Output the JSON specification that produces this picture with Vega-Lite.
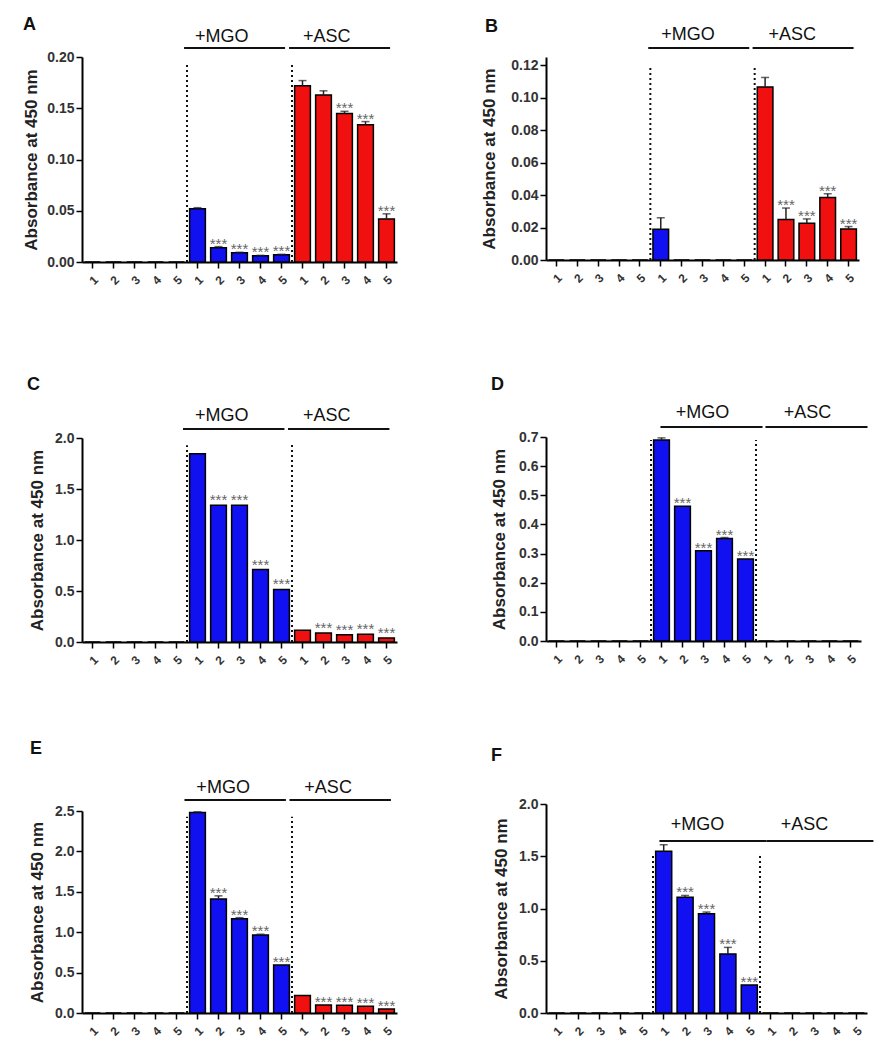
{
  "$schema": "https://vega.github.io/schema/vega-lite/v6.json",
  "padding": {"left": 21, "top": 16, "right": 5, "bottom": 5},
  "datasets": {
    "rows": [
      {"p":"A","k":"bar","c":"c1","g":"ctrl","v":0,"t":0,"s":""},
      {"p":"A","k":"bar","c":"c2","g":"ctrl","v":0,"t":0,"s":""},
      {"p":"A","k":"bar","c":"c3","g":"ctrl","v":0,"t":0,"s":""},
      {"p":"A","k":"bar","c":"c4","g":"ctrl","v":0,"t":0,"s":""},
      {"p":"A","k":"bar","c":"c5","g":"ctrl","v":0,"t":0,"s":""},
      {"p":"A","k":"bar","c":"m1","g":"MGO","v":0.052,"t":0.053,"s":""},
      {"p":"A","k":"bar","c":"m2","g":"MGO","v":0.014,"t":0.015,"s":"***"},
      {"p":"A","k":"bar","c":"m3","g":"MGO","v":0.009,"t":0.0095,"s":"***"},
      {"p":"A","k":"bar","c":"m4","g":"MGO","v":0.006,"t":0.0065,"s":"***"},
      {"p":"A","k":"bar","c":"m5","g":"MGO","v":0.007,"t":0.0075,"s":"***"},
      {"p":"A","k":"bar","c":"a1","g":"ASC","v":0.172,"t":0.177,"s":""},
      {"p":"A","k":"bar","c":"a2","g":"ASC","v":0.163,"t":0.167,"s":""},
      {"p":"A","k":"bar","c":"a3","g":"ASC","v":0.145,"t":0.147,"s":"***"},
      {"p":"A","k":"bar","c":"a4","g":"ASC","v":0.134,"t":0.137,"s":"***"},
      {"p":"A","k":"bar","c":"a5","g":"ASC","v":0.042,"t":0.047,"s":"***"},
      {"p":"A","k":"div","c":"m1","v":0,"t":0.193},
      {"p":"A","k":"div","c":"a1","v":0,"t":0.195},
      {"p":"A","k":"grp","c":"m1","c2":"m5","v":0.2088,"lab":"+MGO","lc":"m2","lv":0.2146},
      {"p":"A","k":"grp","c":"a1","c2":"a5","v":0.2088,"lab":"+ASC","lc":"a2","lv":0.2146},

      {"p":"B","k":"bar","c":"c1","g":"ctrl","v":0,"t":0,"s":""},
      {"p":"B","k":"bar","c":"c2","g":"ctrl","v":0,"t":0,"s":""},
      {"p":"B","k":"bar","c":"c3","g":"ctrl","v":0,"t":0,"s":""},
      {"p":"B","k":"bar","c":"c4","g":"ctrl","v":0,"t":0,"s":""},
      {"p":"B","k":"bar","c":"c5","g":"ctrl","v":0,"t":0,"s":""},
      {"p":"B","k":"bar","c":"m1","g":"MGO","v":0.019,"t":0.026,"s":""},
      {"p":"B","k":"bar","c":"m2","g":"MGO","v":0,"t":0,"s":""},
      {"p":"B","k":"bar","c":"m3","g":"MGO","v":0,"t":0,"s":""},
      {"p":"B","k":"bar","c":"m4","g":"MGO","v":0,"t":0,"s":""},
      {"p":"B","k":"bar","c":"m5","g":"MGO","v":0,"t":0,"s":""},
      {"p":"B","k":"bar","c":"a1","g":"ASC","v":0.1066,"t":0.1124,"s":""},
      {"p":"B","k":"bar","c":"a2","g":"ASC","v":0.025,"t":0.032,"s":"***"},
      {"p":"B","k":"bar","c":"a3","g":"ASC","v":0.0226,"t":0.0253,"s":"***"},
      {"p":"B","k":"bar","c":"a4","g":"ASC","v":0.0385,"t":0.0408,"s":"***"},
      {"p":"B","k":"bar","c":"a5","g":"ASC","v":0.0191,"t":0.0206,"s":"***"},
      {"p":"B","k":"div","c":"m1","v":0,"t":0.12},
      {"p":"B","k":"div","c":"a1","v":0,"t":0.12},
      {"p":"B","k":"grp","c":"m1","c2":"m5","v":0.1305,"lab":"+MGO","lc":"m2","lv":0.1357},
      {"p":"B","k":"grp","c":"a1","c2":"a5","v":0.1305,"lab":"+ASC","lc":"a2","lv":0.1357},

      {"p":"C","k":"bar","c":"c1","g":"ctrl","v":0,"t":0,"s":""},
      {"p":"C","k":"bar","c":"c2","g":"ctrl","v":0,"t":0,"s":""},
      {"p":"C","k":"bar","c":"c3","g":"ctrl","v":0,"t":0,"s":""},
      {"p":"C","k":"bar","c":"c4","g":"ctrl","v":0,"t":0,"s":""},
      {"p":"C","k":"bar","c":"c5","g":"ctrl","v":0,"t":0,"s":""},
      {"p":"C","k":"bar","c":"m1","g":"MGO","v":1.846,"t":1.846,"s":""},
      {"p":"C","k":"bar","c":"m2","g":"MGO","v":1.34,"t":1.34,"s":"***"},
      {"p":"C","k":"bar","c":"m3","g":"MGO","v":1.34,"t":1.34,"s":"***"},
      {"p":"C","k":"bar","c":"m4","g":"MGO","v":0.71,"t":0.71,"s":"***"},
      {"p":"C","k":"bar","c":"m5","g":"MGO","v":0.515,"t":0.515,"s":"***"},
      {"p":"C","k":"bar","c":"a1","g":"ASC","v":0.114,"t":0.114,"s":""},
      {"p":"C","k":"bar","c":"a2","g":"ASC","v":0.088,"t":0.088,"s":"***"},
      {"p":"C","k":"bar","c":"a3","g":"ASC","v":0.072,"t":0.072,"s":"***"},
      {"p":"C","k":"bar","c":"a4","g":"ASC","v":0.075,"t":0.075,"s":"***"},
      {"p":"C","k":"bar","c":"a5","g":"ASC","v":0.04,"t":0.04,"s":"***"},
      {"p":"C","k":"div","c":"m1","v":0,"t":1.93},
      {"p":"C","k":"div","c":"a1","v":0,"t":1.95},
      {"p":"C","k":"grp","c":"m1","c2":"m5","v":2.088,"lab":"+MGO","lc":"m2","lv":2.17},
      {"p":"C","k":"grp","c":"a1","c2":"a5","v":2.088,"lab":"+ASC","lc":"a2","lv":2.17},

      {"p":"D","k":"bar","c":"c1","g":"ctrl","v":0,"t":0,"s":""},
      {"p":"D","k":"bar","c":"c2","g":"ctrl","v":0,"t":0,"s":""},
      {"p":"D","k":"bar","c":"c3","g":"ctrl","v":0,"t":0,"s":""},
      {"p":"D","k":"bar","c":"c4","g":"ctrl","v":0,"t":0,"s":""},
      {"p":"D","k":"bar","c":"c5","g":"ctrl","v":0,"t":0,"s":""},
      {"p":"D","k":"bar","c":"m1","g":"MGO","v":0.69,"t":0.697,"s":""},
      {"p":"D","k":"bar","c":"m2","g":"MGO","v":0.462,"t":0.462,"s":"***"},
      {"p":"D","k":"bar","c":"m3","g":"MGO","v":0.31,"t":0.31,"s":"***"},
      {"p":"D","k":"bar","c":"m4","g":"MGO","v":0.352,"t":0.355,"s":"***"},
      {"p":"D","k":"bar","c":"m5","g":"MGO","v":0.281,"t":0.281,"s":"***"},
      {"p":"D","k":"bar","c":"a1","g":"ASC","v":0,"t":0,"s":""},
      {"p":"D","k":"bar","c":"a2","g":"ASC","v":0,"t":0,"s":""},
      {"p":"D","k":"bar","c":"a3","g":"ASC","v":0,"t":0,"s":""},
      {"p":"D","k":"bar","c":"a4","g":"ASC","v":0,"t":0,"s":""},
      {"p":"D","k":"bar","c":"a5","g":"ASC","v":0,"t":0,"s":""},
      {"p":"D","k":"div","c":"m1","v":0,"t":0.69},
      {"p":"D","k":"div","c":"a1","v":0,"t":0.69},
      {"p":"D","k":"grp","c":"m1","c2":"m5","v":0.7345,"lab":"+MGO","lc":"m2","lv":0.7655},
      {"p":"D","k":"grp","c":"a1","c2":"a5","v":0.7345,"lab":"+ASC","lc":"a2","lv":0.7655},

      {"p":"E","k":"bar","c":"c1","g":"ctrl","v":0,"t":0,"s":""},
      {"p":"E","k":"bar","c":"c2","g":"ctrl","v":0,"t":0,"s":""},
      {"p":"E","k":"bar","c":"c3","g":"ctrl","v":0,"t":0,"s":""},
      {"p":"E","k":"bar","c":"c4","g":"ctrl","v":0,"t":0,"s":""},
      {"p":"E","k":"bar","c":"c5","g":"ctrl","v":0,"t":0,"s":""},
      {"p":"E","k":"bar","c":"m1","g":"MGO","v":2.48,"t":2.49,"s":""},
      {"p":"E","k":"bar","c":"m2","g":"MGO","v":1.41,"t":1.45,"s":"***"},
      {"p":"E","k":"bar","c":"m3","g":"MGO","v":1.165,"t":1.18,"s":"***"},
      {"p":"E","k":"bar","c":"m4","g":"MGO","v":0.964,"t":0.975,"s":"***"},
      {"p":"E","k":"bar","c":"m5","g":"MGO","v":0.593,"t":0.593,"s":"***"},
      {"p":"E","k":"bar","c":"a1","g":"ASC","v":0.218,"t":0.218,"s":""},
      {"p":"E","k":"bar","c":"a2","g":"ASC","v":0.099,"t":0.099,"s":"***"},
      {"p":"E","k":"bar","c":"a3","g":"ASC","v":0.095,"t":0.095,"s":"***"},
      {"p":"E","k":"bar","c":"a4","g":"ASC","v":0.082,"t":0.082,"s":"***"},
      {"p":"E","k":"bar","c":"a5","g":"ASC","v":0.049,"t":0.049,"s":"***"},
      {"p":"E","k":"div","c":"m1","v":0,"t":2.43},
      {"p":"E","k":"div","c":"a1","v":0,"t":2.43},
      {"p":"E","k":"grp","c":"m1","c2":"m5","v":2.636,"lab":"+MGO","lc":"m2","lv":2.723},
      {"p":"E","k":"grp","c":"a1","c2":"a5","v":2.636,"lab":"+ASC","lc":"a2","lv":2.723},

      {"p":"F","k":"bar","c":"c1","g":"ctrl","v":0,"t":0,"s":""},
      {"p":"F","k":"bar","c":"c2","g":"ctrl","v":0,"t":0,"s":""},
      {"p":"F","k":"bar","c":"c3","g":"ctrl","v":0,"t":0,"s":""},
      {"p":"F","k":"bar","c":"c4","g":"ctrl","v":0,"t":0,"s":""},
      {"p":"F","k":"bar","c":"c5","g":"ctrl","v":0,"t":0,"s":""},
      {"p":"F","k":"bar","c":"m1","g":"MGO","v":1.547,"t":1.61,"s":""},
      {"p":"F","k":"bar","c":"m2","g":"MGO","v":1.107,"t":1.125,"s":"***"},
      {"p":"F","k":"bar","c":"m3","g":"MGO","v":0.95,"t":0.966,"s":"***"},
      {"p":"F","k":"bar","c":"m4","g":"MGO","v":0.565,"t":0.628,"s":"***"},
      {"p":"F","k":"bar","c":"m5","g":"MGO","v":0.268,"t":0.268,"s":"***"},
      {"p":"F","k":"bar","c":"a1","g":"ASC","v":0,"t":0,"s":""},
      {"p":"F","k":"bar","c":"a2","g":"ASC","v":0,"t":0,"s":""},
      {"p":"F","k":"bar","c":"a3","g":"ASC","v":0,"t":0,"s":""},
      {"p":"F","k":"bar","c":"a4","g":"ASC","v":0,"t":0,"s":""},
      {"p":"F","k":"bar","c":"a5","g":"ASC","v":0,"t":0,"s":""},
      {"p":"F","k":"div","c":"m1","v":0,"t":1.51},
      {"p":"F","k":"div","c":"a1","v":0,"t":1.51},
      {"p":"F","k":"grp","c":"m1","c2":"m5","v":1.646,"lab":"+MGO","lc":"m2","lv":1.751},
      {"p":"F","k":"grp","c":"a1","c2":"a5","v":1.646,"lab":"+ASC","lc":"a2","lv":1.751}
    ]
  },
  "data": {"name": "rows"},
  "bounds": "flush",
  "spacing": 464,
  "hconcat": [
    {
      "bounds": "flush",
      "spacing": 176,
      "vconcat": [
        {
          "width": 315, "height": 205,
          "title": {"text": "A", "anchor": "start", "frame": "group", "dx": -59, "offset": -20, "baseline": "alphabetic"},
          "transform": [{"filter": "datum.p === 'A'"}],
          "encoding": {"x": {"field": "c", "type": "nominal", "scale": {"type": "band", "domain": ["c1","c2","c3","c4","c5","m1","m2","m3","m4","m5","a1","a2","a3","a4","a5"], "paddingInner": 0, "paddingOuter": 0}, "axis": {"labelExpr": "substring(datum.value, 1)", "title": null}}},
          "layer": [
            {"transform": [{"filter": "datum.k === 'div'"}], "mark": {"type": "rule", "strokeDash": [2, 3], "strokeWidth": 2, "color": "#111"}, "encoding": {"x": {"field": "c", "type": "nominal", "bandPosition": 0}, "y": {"field": "v", "type": "quantitative"}, "y2": {"field": "t"}}},
            {"transform": [{"filter": "datum.k === 'bar'"}], "mark": {"type": "bar", "width": {"band": 0.75}, "stroke": "#000", "strokeWidth": 1.5}, "encoding": {"y": {"field": "v", "type": "quantitative", "scale": {"domain": [0, 0.2], "nice": false}, "axis": {"title": "Absorbance at 450 nm", "values": [0, 0.05, 0.1, 0.15, 0.2], "tickCount": 10, "format": ".2f", "titleX": -46, "labelOverlap": false}}, "color": {"field": "g", "type": "nominal", "scale": {"domain": ["ctrl", "MGO", "ASC"], "range": ["#ffffff", "#1010f0", "#f01010"]}, "legend": null}}},
            {"transform": [{"filter": "datum.k === 'bar' && datum.t > datum.v"}], "mark": {"type": "rule", "color": "#222", "strokeWidth": 1.5}, "encoding": {"y": {"field": "v", "type": "quantitative"}, "y2": {"field": "t"}}},
            {"transform": [{"filter": "datum.k === 'bar' && datum.t > datum.v"}], "mark": {"type": "tick", "color": "#222", "thickness": 1.5, "size": 8}, "encoding": {"y": {"field": "t", "type": "quantitative"}}},
            {"transform": [{"filter": "datum.k === 'bar' && datum.s !== ''"}], "mark": {"type": "text", "fontSize": 15, "color": "#666", "baseline": "alphabetic", "dy": 2}, "encoding": {"y": {"field": "t", "type": "quantitative"}, "text": {"field": "s"}}},
            {"transform": [{"filter": "datum.k === 'grp'"}], "mark": {"type": "rule", "strokeWidth": 2, "color": "#111"}, "encoding": {"x": {"field": "c", "type": "nominal", "bandPosition": -0.14}, "x2": {"field": "c2", "bandPosition": 0.67}, "y": {"field": "v", "type": "quantitative"}}},
            {"transform": [{"filter": "datum.k === 'grp'"}], "mark": {"type": "text", "fontSize": 18, "color": "#111", "baseline": "alphabetic"}, "encoding": {"x": {"field": "lc", "type": "nominal", "bandPosition": 0.65}, "y": {"field": "lv", "type": "quantitative"}, "text": {"field": "lab"}}}
          ]
        },
        {
          "bounds": "flush",
          "spacing": 169,
          "vconcat": [
            {
              "width": 315, "height": 204,
              "title": {"text": "C", "anchor": "start", "frame": "group", "dx": -55, "offset": -1, "baseline": "alphabetic"},
              "transform": [{"filter": "datum.p === 'C'"}],
              "encoding": {"x": {"field": "c", "type": "nominal", "scale": {"type": "band", "domain": ["c1","c2","c3","c4","c5","m1","m2","m3","m4","m5","a1","a2","a3","a4","a5"], "paddingInner": 0, "paddingOuter": 0}, "axis": {"labelExpr": "substring(datum.value, 1)", "title": null}}},
              "layer": [
                {"transform": [{"filter": "datum.k === 'div'"}], "mark": {"type": "rule", "strokeDash": [2, 3], "strokeWidth": 2, "color": "#111"}, "encoding": {"x": {"field": "c", "type": "nominal", "bandPosition": 0}, "y": {"field": "v", "type": "quantitative"}, "y2": {"field": "t"}}},
                {"transform": [{"filter": "datum.k === 'bar'"}], "mark": {"type": "bar", "width": {"band": 0.75}, "stroke": "#000", "strokeWidth": 1.5}, "encoding": {"y": {"field": "v", "type": "quantitative", "scale": {"domain": [0, 2], "nice": false}, "axis": {"title": "Absorbance at 450 nm", "values": [0, 0.5, 1, 1.5, 2], "tickCount": 10, "format": ".1f", "titleX": -40, "labelOverlap": false}}, "color": {"field": "g", "type": "nominal", "scale": {"domain": ["ctrl", "MGO", "ASC"], "range": ["#ffffff", "#1010f0", "#f01010"]}, "legend": null}}},
                {"transform": [{"filter": "datum.k === 'bar' && datum.t > datum.v"}], "mark": {"type": "rule", "color": "#222", "strokeWidth": 1.5}, "encoding": {"y": {"field": "v", "type": "quantitative"}, "y2": {"field": "t"}}},
                {"transform": [{"filter": "datum.k === 'bar' && datum.t > datum.v"}], "mark": {"type": "tick", "color": "#222", "thickness": 1.5, "size": 8}, "encoding": {"y": {"field": "t", "type": "quantitative"}}},
                {"transform": [{"filter": "datum.k === 'bar' && datum.s !== ''"}], "mark": {"type": "text", "fontSize": 15, "color": "#666", "baseline": "alphabetic", "dy": 0}, "encoding": {"y": {"field": "t", "type": "quantitative"}, "text": {"field": "s"}}},
                {"transform": [{"filter": "datum.k === 'grp'"}], "mark": {"type": "rule", "strokeWidth": 2, "color": "#111"}, "encoding": {"x": {"field": "c", "type": "nominal", "bandPosition": -0.19}, "x2": {"field": "c2", "bandPosition": 0.64}, "y": {"field": "v", "type": "quantitative"}}},
                {"transform": [{"filter": "datum.k === 'grp'"}], "mark": {"type": "text", "fontSize": 18, "color": "#111", "baseline": "alphabetic"}, "encoding": {"x": {"field": "lc", "type": "nominal", "bandPosition": 0.65}, "y": {"field": "lv", "type": "quantitative"}, "text": {"field": "lab"}}}
              ]
            },
            {
              "width": 315, "height": 202,
              "title": {"text": "E", "anchor": "start", "frame": "group", "dx": -52, "offset": 7, "baseline": "alphabetic"},
              "transform": [{"filter": "datum.p === 'E'"}],
              "encoding": {"x": {"field": "c", "type": "nominal", "scale": {"type": "band", "domain": ["c1","c2","c3","c4","c5","m1","m2","m3","m4","m5","a1","a2","a3","a4","a5"], "paddingInner": 0, "paddingOuter": 0}, "axis": {"labelExpr": "substring(datum.value, 1)", "title": null}}},
              "layer": [
                {"transform": [{"filter": "datum.k === 'div'"}], "mark": {"type": "rule", "strokeDash": [2, 3], "strokeWidth": 2, "color": "#111"}, "encoding": {"x": {"field": "c", "type": "nominal", "bandPosition": 0}, "y": {"field": "v", "type": "quantitative"}, "y2": {"field": "t"}}},
                {"transform": [{"filter": "datum.k === 'bar'"}], "mark": {"type": "bar", "width": {"band": 0.75}, "stroke": "#000", "strokeWidth": 1.5}, "encoding": {"y": {"field": "v", "type": "quantitative", "scale": {"domain": [0, 2.5], "nice": false}, "axis": {"title": "Absorbance at 450 nm", "values": [0, 0.5, 1, 1.5, 2, 2.5], "tickCount": 10, "format": ".1f", "titleX": -40, "labelOverlap": false}}, "color": {"field": "g", "type": "nominal", "scale": {"domain": ["ctrl", "MGO", "ASC"], "range": ["#ffffff", "#1010f0", "#f01010"]}, "legend": null}}},
                {"transform": [{"filter": "datum.k === 'bar' && datum.t > datum.v"}], "mark": {"type": "rule", "color": "#222", "strokeWidth": 1.5}, "encoding": {"y": {"field": "v", "type": "quantitative"}, "y2": {"field": "t"}}},
                {"transform": [{"filter": "datum.k === 'bar' && datum.t > datum.v"}], "mark": {"type": "tick", "color": "#222", "thickness": 1.5, "size": 8}, "encoding": {"y": {"field": "t", "type": "quantitative"}}},
                {"transform": [{"filter": "datum.k === 'bar' && datum.s !== ''"}], "mark": {"type": "text", "fontSize": 15, "color": "#666", "baseline": "alphabetic", "dy": 2}, "encoding": {"y": {"field": "t", "type": "quantitative"}, "text": {"field": "s"}}},
                {"transform": [{"filter": "datum.k === 'grp'"}], "mark": {"type": "rule", "strokeWidth": 2, "color": "#111"}, "encoding": {"x": {"field": "c", "type": "nominal", "bandPosition": -0.12}, "x2": {"field": "c2", "bandPosition": 0.71}, "y": {"field": "v", "type": "quantitative"}}},
                {"transform": [{"filter": "datum.k === 'grp'"}], "mark": {"type": "text", "fontSize": 18, "color": "#111", "baseline": "alphabetic"}, "encoding": {"x": {"field": "lc", "type": "nominal", "bandPosition": 0.72}, "y": {"field": "lv", "type": "quantitative"}, "text": {"field": "lab"}}}
              ]
            }
          ]
        }
      ]
    },
    {
      "bounds": "flush",
      "spacing": 177,
      "vconcat": [
        {
          "width": 313, "height": 203,
          "title": {"text": "B", "anchor": "start", "frame": "group", "dx": -61, "offset": -24, "baseline": "alphabetic"},
          "transform": [{"filter": "datum.p === 'B'"}],
          "encoding": {"x": {"field": "c", "type": "nominal", "scale": {"type": "band", "domain": ["c1","c2","c3","c4","c5","m1","m2","m3","m4","m5","a1","a2","a3","a4","a5"], "paddingInner": 0, "paddingOuter": 0}, "axis": {"labelExpr": "substring(datum.value, 1)", "title": null}}},
          "layer": [
            {"transform": [{"filter": "datum.k === 'div'"}], "mark": {"type": "rule", "strokeDash": [2, 3], "strokeWidth": 2, "color": "#111"}, "encoding": {"x": {"field": "c", "type": "nominal", "bandPosition": 0}, "y": {"field": "v", "type": "quantitative"}, "y2": {"field": "t"}}},
            {"transform": [{"filter": "datum.k === 'bar'"}], "mark": {"type": "bar", "width": {"band": 0.75}, "stroke": "#000", "strokeWidth": 1.5}, "encoding": {"y": {"field": "v", "type": "quantitative", "scale": {"domain": [0, 0.125], "nice": false}, "axis": {"title": "Absorbance at 450 nm", "values": [0, 0.02, 0.04, 0.06, 0.08, 0.1, 0.12], "tickCount": 10, "format": ".2f", "titleX": -52, "labelOverlap": false}}, "color": {"field": "g", "type": "nominal", "scale": {"domain": ["ctrl", "MGO", "ASC"], "range": ["#ffffff", "#1010f0", "#f01010"]}, "legend": null}}},
            {"transform": [{"filter": "datum.k === 'bar' && datum.t > datum.v"}], "mark": {"type": "rule", "color": "#222", "strokeWidth": 1.5}, "encoding": {"y": {"field": "v", "type": "quantitative"}, "y2": {"field": "t"}}},
            {"transform": [{"filter": "datum.k === 'bar' && datum.t > datum.v"}], "mark": {"type": "tick", "color": "#222", "thickness": 1.5, "size": 8}, "encoding": {"y": {"field": "t", "type": "quantitative"}}},
            {"transform": [{"filter": "datum.k === 'bar' && datum.s !== ''"}], "mark": {"type": "text", "fontSize": 15, "color": "#666", "baseline": "alphabetic", "dy": 2}, "encoding": {"y": {"field": "t", "type": "quantitative"}, "text": {"field": "s"}}},
            {"transform": [{"filter": "datum.k === 'grp'"}], "mark": {"type": "rule", "strokeWidth": 2, "color": "#111"}, "encoding": {"x": {"field": "c", "type": "nominal", "bandPosition": -0.1}, "x2": {"field": "c2", "bandPosition": 0.74}, "y": {"field": "v", "type": "quantitative"}}},
            {"transform": [{"filter": "datum.k === 'grp'"}], "mark": {"type": "text", "fontSize": 18, "color": "#111", "baseline": "alphabetic"}, "encoding": {"x": {"field": "lc", "type": "nominal", "bandPosition": 0.8}, "y": {"field": "lv", "type": "quantitative"}, "text": {"field": "lab"}}}
          ]
        },
        {
          "bounds": "flush",
          "spacing": 163,
          "vconcat": [
            {
              "width": 315, "height": 204,
              "title": {"text": "D", "anchor": "start", "frame": "group", "dx": -55, "offset": -4, "baseline": "alphabetic"},
              "transform": [{"filter": "datum.p === 'D'"}],
              "encoding": {"x": {"field": "c", "type": "nominal", "scale": {"type": "band", "domain": ["c1","c2","c3","c4","c5","m1","m2","m3","m4","m5","a1","a2","a3","a4","a5"], "paddingInner": 0, "paddingOuter": 0}, "axis": {"labelExpr": "substring(datum.value, 1)", "title": null}}},
              "layer": [
                {"transform": [{"filter": "datum.k === 'div'"}], "mark": {"type": "rule", "strokeDash": [2, 3], "strokeWidth": 2, "color": "#111"}, "encoding": {"x": {"field": "c", "type": "nominal", "bandPosition": 0}, "y": {"field": "v", "type": "quantitative"}, "y2": {"field": "t"}}},
                {"transform": [{"filter": "datum.k === 'bar'"}], "mark": {"type": "bar", "width": {"band": 0.75}, "stroke": "#000", "strokeWidth": 1.5}, "encoding": {"y": {"field": "v", "type": "quantitative", "scale": {"domain": [0, 0.7], "nice": false}, "axis": {"title": "Absorbance at 450 nm", "values": [0, 0.1, 0.2, 0.3, 0.4, 0.5, 0.6, 0.7], "tickCount": 10, "format": ".1f", "titleX": -42, "labelOverlap": false}}, "color": {"field": "g", "type": "nominal", "scale": {"domain": ["ctrl", "MGO", "ASC"], "range": ["#ffffff", "#1010f0", "#f01010"]}, "legend": null}}},
                {"transform": [{"filter": "datum.k === 'bar' && datum.t > datum.v"}], "mark": {"type": "rule", "color": "#222", "strokeWidth": 1.5}, "encoding": {"y": {"field": "v", "type": "quantitative"}, "y2": {"field": "t"}}},
                {"transform": [{"filter": "datum.k === 'bar' && datum.t > datum.v"}], "mark": {"type": "tick", "color": "#222", "thickness": 1.5, "size": 8}, "encoding": {"y": {"field": "t", "type": "quantitative"}}},
                {"transform": [{"filter": "datum.k === 'bar' && datum.s !== ''"}], "mark": {"type": "text", "fontSize": 15, "color": "#666", "baseline": "alphabetic", "dy": 2}, "encoding": {"y": {"field": "t", "type": "quantitative"}, "text": {"field": "s"}}},
                {"transform": [{"filter": "datum.k === 'grp'"}], "mark": {"type": "rule", "strokeWidth": 2, "color": "#111"}, "encoding": {"x": {"field": "c", "type": "nominal", "bandPosition": 0.45}, "x2": {"field": "c2", "bandPosition": 1.31}, "y": {"field": "v", "type": "quantitative"}}},
                {"transform": [{"filter": "datum.k === 'grp'"}], "mark": {"type": "text", "fontSize": 18, "color": "#111", "baseline": "alphabetic"}, "encoding": {"x": {"field": "lc", "type": "nominal", "bandPosition": 1.45}, "y": {"field": "lv", "type": "quantitative"}, "text": {"field": "lab"}}}
              ]
            },
            {
              "width": 321, "height": 209,
              "title": {"text": "F", "anchor": "start", "frame": "group", "dx": -55, "offset": 18, "baseline": "alphabetic"},
              "transform": [{"filter": "datum.p === 'F'"}],
              "encoding": {"x": {"field": "c", "type": "nominal", "scale": {"type": "band", "domain": ["c1","c2","c3","c4","c5","m1","m2","m3","m4","m5","a1","a2","a3","a4","a5"], "paddingInner": 0, "paddingOuter": 0}, "axis": {"labelExpr": "substring(datum.value, 1)", "title": null}}},
              "layer": [
                {"transform": [{"filter": "datum.k === 'div'"}], "mark": {"type": "rule", "strokeDash": [2, 3], "strokeWidth": 2, "color": "#111"}, "encoding": {"x": {"field": "c", "type": "nominal", "bandPosition": 0}, "y": {"field": "v", "type": "quantitative"}, "y2": {"field": "t"}}},
                {"transform": [{"filter": "datum.k === 'bar'"}], "mark": {"type": "bar", "width": {"band": 0.75}, "stroke": "#000", "strokeWidth": 1.5}, "encoding": {"y": {"field": "v", "type": "quantitative", "scale": {"domain": [0, 2], "nice": false}, "axis": {"title": "Absorbance at 450 nm", "values": [0, 0.5, 1, 1.5, 2], "tickCount": 10, "format": ".1f", "titleX": -40, "labelOverlap": false}}, "color": {"field": "g", "type": "nominal", "scale": {"domain": ["ctrl", "MGO", "ASC"], "range": ["#ffffff", "#1010f0", "#f01010"]}, "legend": null}}},
                {"transform": [{"filter": "datum.k === 'bar' && datum.t > datum.v"}], "mark": {"type": "rule", "color": "#222", "strokeWidth": 1.5}, "encoding": {"y": {"field": "v", "type": "quantitative"}, "y2": {"field": "t"}}},
                {"transform": [{"filter": "datum.k === 'bar' && datum.t > datum.v"}], "mark": {"type": "tick", "color": "#222", "thickness": 1.5, "size": 8}, "encoding": {"y": {"field": "t", "type": "quantitative"}}},
                {"transform": [{"filter": "datum.k === 'bar' && datum.s !== ''"}], "mark": {"type": "text", "fontSize": 15, "color": "#666", "baseline": "alphabetic", "dy": 2}, "encoding": {"y": {"field": "t", "type": "quantitative"}, "text": {"field": "s"}}},
                {"transform": [{"filter": "datum.k === 'grp'"}], "mark": {"type": "rule", "strokeWidth": 2, "color": "#111"}, "encoding": {"x": {"field": "c", "type": "nominal", "bandPosition": 0.3}, "x2": {"field": "c2", "bandPosition": 1.3}, "y": {"field": "v", "type": "quantitative"}}},
                {"transform": [{"filter": "datum.k === 'grp'"}], "mark": {"type": "text", "fontSize": 18, "color": "#111", "baseline": "alphabetic"}, "encoding": {"x": {"field": "lc", "type": "nominal", "bandPosition": 1.08}, "y": {"field": "lv", "type": "quantitative"}, "text": {"field": "lab"}}}
              ]
            }
          ]
        }
      ]
    }
  ],
  "config": {
    "font": "Liberation Sans",
    "view": {"stroke": null},
    "title": {"fontSize": 18, "fontWeight": "bold", "color": "#111"},
    "axis": {"grid": false, "domainColor": "#000", "domainWidth": 2, "tickColor": "#000", "tickWidth": 1.5, "tickSize": 6, "labelFontWeight": "bold", "labelColor": "#333", "titleFontWeight": "bold", "titleFontSize": 17, "titleColor": "#222", "labelOverlap": false},
    "axisX": {"labelAngle": -45, "labelFontSize": 12, "labelPadding": 6},
    "axisY": {"labelFontSize": 14, "titleBaseline": "alphabetic", "labelPadding": 2}
  }
}
